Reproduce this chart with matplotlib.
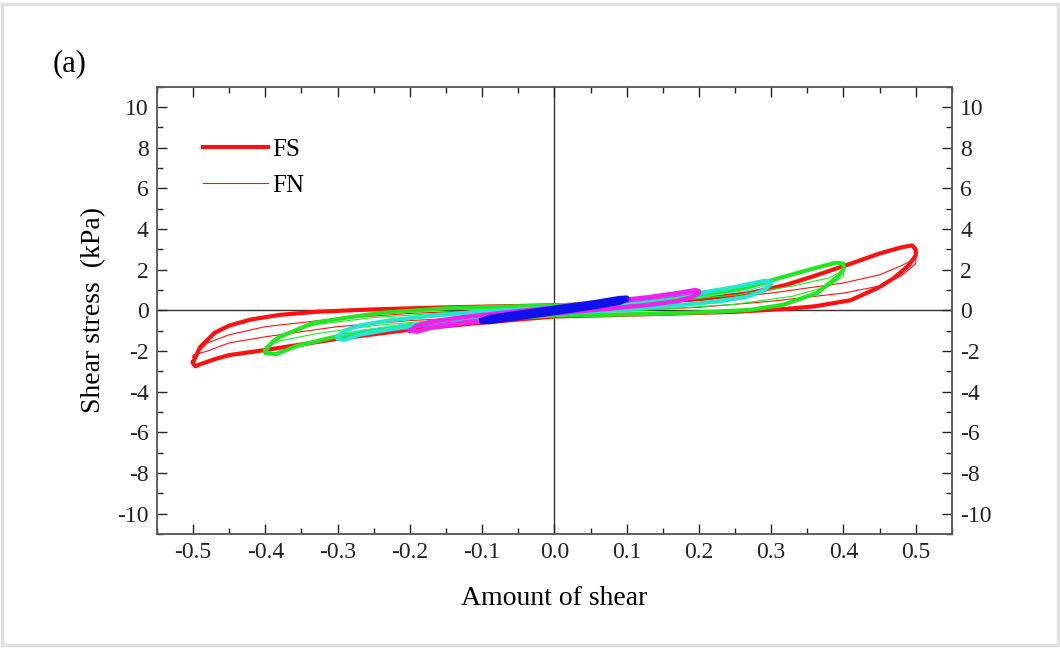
import numpy as np
import matplotlib.pyplot as plt
from matplotlib.patches import Rectangle
from matplotlib.ticker import MultipleLocator

plt.rcParams["font.family"] = ["Liberation Serif", "DejaVu Serif"]
plt.rcParams["axes.unicode_minus"] = False

# hysteresis loops: upper branch (loading, -amp -> +amp)
# and lower branch (unloading, +amp -> -amp)
# ---- FS (thick) ----
red_up_x = [-0.5, -0.49, -0.47, -0.45, -0.42, -0.38, -0.33, -0.25, -0.15, 0.0,
            0.1, 0.2, 0.27, 0.32, 0.36, 0.41, 0.45, 0.48, 0.495, 0.5]
red_up_y = [-2.55, -1.8, -1.1, -0.75, -0.45, -0.22, -0.07, 0.05, 0.15, 0.25,
            0.35, 0.55, 0.85, 1.25, 1.7, 2.3, 2.8, 3.1, 3.2, 3.0]
red_lo_x = [0.5, 0.49, 0.47, 0.45, 0.41, 0.36, 0.32, 0.25, 0.15, 0.0,
            -0.1, -0.2, -0.3, -0.4, -0.45, -0.47, -0.49, -0.497, -0.5]
red_lo_y = [2.7, 2.2, 1.6, 1.15, 0.5, 0.2, 0.07, -0.07, -0.17, -0.3,
            -0.6, -0.95, -1.4, -1.95, -2.2, -2.4, -2.65, -2.75, -2.6]

green_up_x = [-0.4, -0.39, -0.38, -0.356, -0.334, -0.29, -0.24, -0.15, -0.05,
              0.05, 0.15, 0.2, 0.27, 0.316, 0.363, 0.39, 0.4]
green_up_y = [-2.0, -1.55, -1.3, -0.95, -0.62, -0.37, -0.12, 0.1, 0.2,
              0.3, 0.5, 0.66, 1.16, 1.64, 2.1, 2.35, 2.3]
green_lo_x = [0.4, 0.39, 0.363, 0.316, 0.27, 0.2, 0.1, 0.0, -0.1, -0.2,
              -0.265, -0.31, -0.356, -0.385, -0.4]
green_lo_y = [2.0, 1.6, 0.85, 0.27, 0.02, -0.1, -0.2, -0.25, -0.45, -0.75,
              -1.05, -1.35, -1.75, -2.15, -2.1]

cyan_up_x = [-0.3, -0.29, -0.27, -0.23, -0.18, -0.1, 0.0, 0.1, 0.2, 0.25, 0.29, 0.3]
cyan_up_y = [-1.3, -1.0, -0.75, -0.5, -0.3, -0.05, 0.15, 0.4, 0.85, 1.15, 1.45, 1.4]
cyan_lo_x = [0.3, 0.29, 0.27, 0.23, 0.18, 0.1, 0.0, -0.1, -0.18, -0.23, -0.27, -0.29, -0.3]
cyan_lo_y = [1.3, 1.0, 0.7, 0.45, 0.28, 0.05, -0.15, -0.4, -0.7, -0.95, -1.2, -1.45, -1.4]

mag_up_x = [-0.2, -0.19, -0.17, -0.13, -0.08, 0.0, 0.08, 0.13, 0.17, 0.195, 0.2]
mag_up_y = [-1.0, -0.75, -0.55, -0.35, -0.15, 0.15, 0.45, 0.65, 0.85, 1.0, 0.95]
mag_lo_x = [0.2, 0.19, 0.17, 0.13, 0.08, 0.0, -0.08, -0.13, -0.17, -0.19, -0.2]
mag_lo_y = [0.85, 0.65, 0.45, 0.27, 0.1, -0.15, -0.45, -0.65, -0.85, -1.05, -1.0]

blue_up_x = [-0.1, -0.09, -0.06, -0.03, 0.0, 0.03, 0.06, 0.09, 0.1]
blue_up_y = [-0.5, -0.35, -0.2, -0.05, 0.1, 0.25, 0.4, 0.58, 0.6]
blue_lo_x = [0.1, 0.09, 0.06, 0.03, 0.0, -0.03, -0.06, -0.09, -0.1]
blue_lo_y = [0.55, 0.4, 0.22, 0.05, -0.1, -0.25, -0.4, -0.55, -0.55]

# ---- FN (thin) ----
red_fn_up_x = [-0.5, -0.48, -0.45, -0.4, -0.3, -0.2, 0.0, 0.2, 0.3, 0.4, 0.45, 0.48, 0.5]
red_fn_up_y = [-2.3, -1.6, -1.2, -0.8, -0.4, -0.15, 0.15, 0.5, 0.85, 1.35, 1.75, 2.2, 2.55]
red_fn_lo_x = [0.5, 0.48, 0.45, 0.4, 0.3, 0.2, 0.0, -0.2, -0.3, -0.4, -0.45, -0.48, -0.5]
red_fn_lo_y = [2.3, 1.7, 1.2, 0.85, 0.45, 0.15, -0.15, -0.5, -0.8, -1.3, -1.6, -2.0, -2.2]

green_fn_up_x = [-0.4, -0.38, -0.33, -0.25, -0.1, 0.0, 0.1, 0.25, 0.33, 0.38, 0.4]
green_fn_up_y = [-1.8, -1.2, -0.7, -0.35, 0.0, 0.15, 0.3, 0.75, 1.2, 1.6, 1.95]
green_fn_lo_x = [0.4, 0.38, 0.33, 0.25, 0.1, 0.0, -0.1, -0.25, -0.33, -0.38, -0.4]
green_fn_lo_y = [1.7, 1.2, 0.7, 0.3, -0.05, -0.15, -0.3, -0.75, -1.15, -1.5, -1.85]

cyan_fn_up_x = [-0.3, -0.27, -0.2, -0.1, 0.0, 0.1, 0.2, 0.27, 0.3]
cyan_fn_up_y = [-1.2, -0.75, -0.4, -0.1, 0.1, 0.3, 0.65, 1.0, 1.3]
cyan_fn_lo_x = [0.3, 0.27, 0.2, 0.1, 0.0, -0.1, -0.2, -0.27, -0.3]
cyan_fn_lo_y = [1.2, 0.75, 0.4, 0.1, -0.1, -0.3, -0.65, -1.0, -1.3]

mag_fn_up_x = [-0.2, -0.17, -0.1, 0.0, 0.1, 0.17, 0.2]
mag_fn_up_y = [-0.9, -0.55, -0.2, 0.1, 0.4, 0.7, 0.9]
mag_fn_lo_x = [0.2, 0.17, 0.1, 0.0, -0.1, -0.17, -0.2]
mag_fn_lo_y = [0.85, 0.5, 0.2, -0.1, -0.4, -0.7, -0.9]

blue_fn_up_x = [-0.1, -0.05, 0.0, 0.05, 0.1]
blue_fn_up_y = [-0.5, -0.2, 0.05, 0.3, 0.55]
blue_fn_lo_x = [0.1, 0.05, 0.0, -0.05, -0.1]
blue_fn_lo_y = [0.5, 0.25, -0.05, -0.3, -0.5]

x_ticks = [-0.5, -0.4, -0.3, -0.2, -0.1, 0.0, 0.1, 0.2, 0.3, 0.4, 0.5]
x_tick_labels = ["-0.5", "-0.4", "-0.3", "-0.2", "-0.1", "0.0",
                 "0.1", "0.2", "0.3", "0.4", "0.5"]

colors = ["#ff1010", "#22e622", "#22e6d2", "#ee22ee", "#1010ee"]
widths = [3.0, 3.0, 3.0, 3.2, 4.0]
fs_loops = [(red_up_x, red_up_y, red_lo_x, red_lo_y),
            (green_up_x, green_up_y, green_lo_x, green_lo_y),
            (cyan_up_x, cyan_up_y, cyan_lo_x, cyan_lo_y),
            (mag_up_x, mag_up_y, mag_lo_x, mag_lo_y),
            (blue_up_x, blue_up_y, blue_lo_x, blue_lo_y)]
fn_loops = [(red_fn_up_x, red_fn_up_y, red_fn_lo_x, red_fn_lo_y),
            (green_fn_up_x, green_fn_up_y, green_fn_lo_x, green_fn_lo_y),
            (cyan_fn_up_x, cyan_fn_up_y, cyan_fn_lo_x, cyan_fn_lo_y),
            (mag_fn_up_x, mag_fn_up_y, mag_fn_lo_x, mag_fn_lo_y),
            (blue_fn_up_x, blue_fn_up_y, blue_fn_lo_x, blue_fn_lo_y)]


def closed(ux, uy, lx, ly):
    x = list(ux) + list(lx) + [ux[0]]
    y = list(uy) + list(ly) + [uy[0]]
    return x, y


fig = plt.figure(figsize=(10.6, 6.48), dpi=100)
ax = fig.add_axes([0.148, 0.176, 0.75, 0.69])

ax.axhline(0, color="#333333", lw=1.0, zorder=1)
ax.axvline(0, color="#333333", lw=1.0, zorder=1)

for i, (fs, fn) in enumerate(zip(fs_loops, fn_loops)):
    x, y = closed(*fs)
    ax.plot(x, y, color=colors[i], lw=widths[i], solid_joinstyle="round",
            zorder=2 + i, label="FS" if i == 0 else None)
    x, y = closed(*fn)
    ax.plot(x, y, color=colors[i], lw=0.8, zorder=2 + i,
            label="FN" if i == 0 else None)

ax.set_xlim(-0.55, 0.55)
ax.set_ylim(-11, 11)
ax.set_xticks(x_ticks)
ax.set_xticklabels(x_tick_labels)
ax.xaxis.set_minor_locator(MultipleLocator(0.05))
ax.yaxis.set_major_locator(MultipleLocator(2))
ax.yaxis.set_minor_locator(MultipleLocator(1))
ax.tick_params(which="both", direction="in", top=True, right=True,
               labelright=True, labelsize=17, colors="#222222", width=1.0)
ax.tick_params(which="major", length=7, pad=6)
ax.tick_params(which="minor", length=4)
for s in ax.spines.values():
    s.set_color("#555555")
    s.set_linewidth(1.3)

ax.set_xlabel("Amount of shear", fontsize=20, labelpad=16)
ax.set_ylabel("Shear stress  (kPa)", fontsize=20, labelpad=8)

ax.legend(loc="upper left", bbox_to_anchor=(0.03, 0.935), frameon=False,
          fontsize=18, handlelength=2.6, handletextpad=0.15, labelspacing=0.55)

fig.text(0.05, 0.89, "(a)", fontsize=22)
fig.patches.append(Rectangle((0.002, 0.004), 0.996, 0.99, transform=fig.transFigure,
                             fill=False, edgecolor="#e0e0e0", lw=2.5))

fig.savefig("out.png", dpi=100)
